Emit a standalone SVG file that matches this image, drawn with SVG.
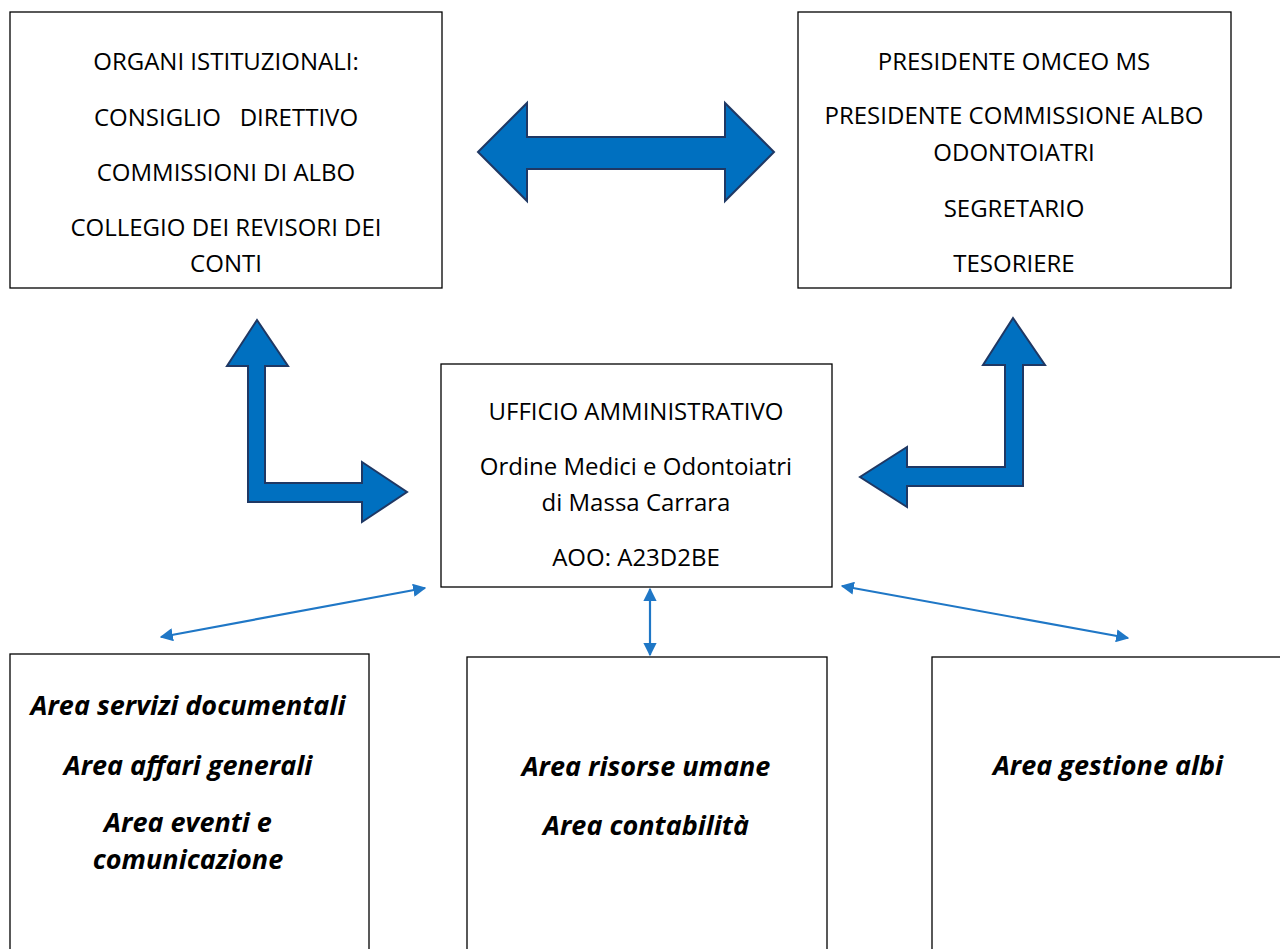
<svg xmlns="http://www.w3.org/2000/svg" width="1280" height="949" viewBox="0 0 1280 949">
<defs>
<style>
.box{fill:#fff;stroke:#000;stroke-width:1.3}
.t{font-family:"Open Sans","Liberation Sans",sans-serif;font-size:24px;fill:#000;text-anchor:middle}
.b{font-family:"Open Sans","Liberation Sans",sans-serif;font-size:27px;font-weight:bold;font-style:italic;fill:#000;text-anchor:middle}
.big{fill:#0070C0;stroke:#1F3864;stroke-width:2;stroke-linejoin:miter}
.thin{stroke:#1F77C6;stroke-width:2.2;fill:none}
</style>
<marker id="ah" viewBox="0 0 10 10" refX="9" refY="5" markerWidth="6" markerHeight="6" orient="auto-start-reverse" markerUnits="strokeWidth">
<path d="M0,0 L10,5 L0,10 z" fill="#1F77C6"/>
</marker>
</defs>
<rect width="1280" height="949" fill="#fff"/>
<g id="organi">
<rect class="box" x="10" y="12" width="432" height="276"/>
<text class="t" x="226" y="70">ORGANI ISTITUZIONALI:</text>
<text class="t" x="226" y="126" xml:space="preserve">CONSIGLIO   DIRETTIVO</text>
<text class="t" x="226" y="181">COMMISSIONI DI ALBO</text>
<text class="t" x="226" y="236">COLLEGIO DEI REVISORI DEI</text>
<text class="t" x="226" y="272">CONTI</text>
</g>
<g id="presidente">
<rect class="box" x="798" y="12" width="433" height="276"/>
<text class="t" x="1014" y="70">PRESIDENTE OMCEO MS</text>
<text class="t" x="1014" y="124">PRESIDENTE COMMISSIONE ALBO</text>
<text class="t" x="1014" y="161">ODONTOIATRI</text>
<text class="t" x="1014" y="217">SEGRETARIO</text>
<text class="t" x="1014" y="272">TESORIERE</text>
</g>
<g id="ufficio">
<rect class="box" x="441" y="364" width="391" height="223"/>
<text class="t" x="636" y="420">UFFICIO AMMINISTRATIVO</text>
<text class="t" x="636" y="475">Ordine Medici e Odontoiatri</text>
<text class="t" x="636" y="511">di Massa Carrara</text>
<text class="t" x="636" y="566">AOO: A23D2BE</text>
</g>
<g id="area1">
<rect class="box" x="10" y="654" width="359" height="300"/>
<text class="b" x="188" y="715">Area servizi documentali</text>
<text class="b" x="188" y="775">Area affari generali</text>
<text class="b" x="188" y="832">Area eventi e</text>
<text class="b" x="188" y="869">comunicazione</text>
</g>
<g id="area2">
<rect class="box" x="467" y="657" width="360" height="300"/>
<text class="b" x="646" y="776">Area risorse umane</text>
<text class="b" x="646" y="835">Area contabilità</text>
</g>
<g id="area3">
<rect class="box" x="932" y="657" width="360" height="300"/>
<text class="b" x="1108" y="775">Area gestione albi</text>
</g>
<g id="connectors">
<path class="big" d="M478,152 L527,103 L527,137 L725,137 L725,103 L774,152 L725,201 L725,169 L527,169 L527,201 Z"/>
<path class="big" d="M257,320 L288,366 L265,366 L265,483 L362,483 L362,462 L407,492 L362,522 L362,502 L248,502 L248,366 L227,366 Z"/>
<path class="big" d="M1013,318 L1045,365 L1023,365 L1023,486 L907,486 L907,507 L860,477 L907,447 L907,467 L1005,467 L1005,365 L983,365 Z"/>
<line class="thin" x1="161" y1="637" x2="425" y2="588" marker-start="url(#ah)" marker-end="url(#ah)"/>
<line class="thin" x1="842" y1="586" x2="1128" y2="638" marker-start="url(#ah)" marker-end="url(#ah)"/>
<line class="thin" x1="650" y1="589" x2="650" y2="655" marker-start="url(#ah)" marker-end="url(#ah)"/>
</g>
</svg>
